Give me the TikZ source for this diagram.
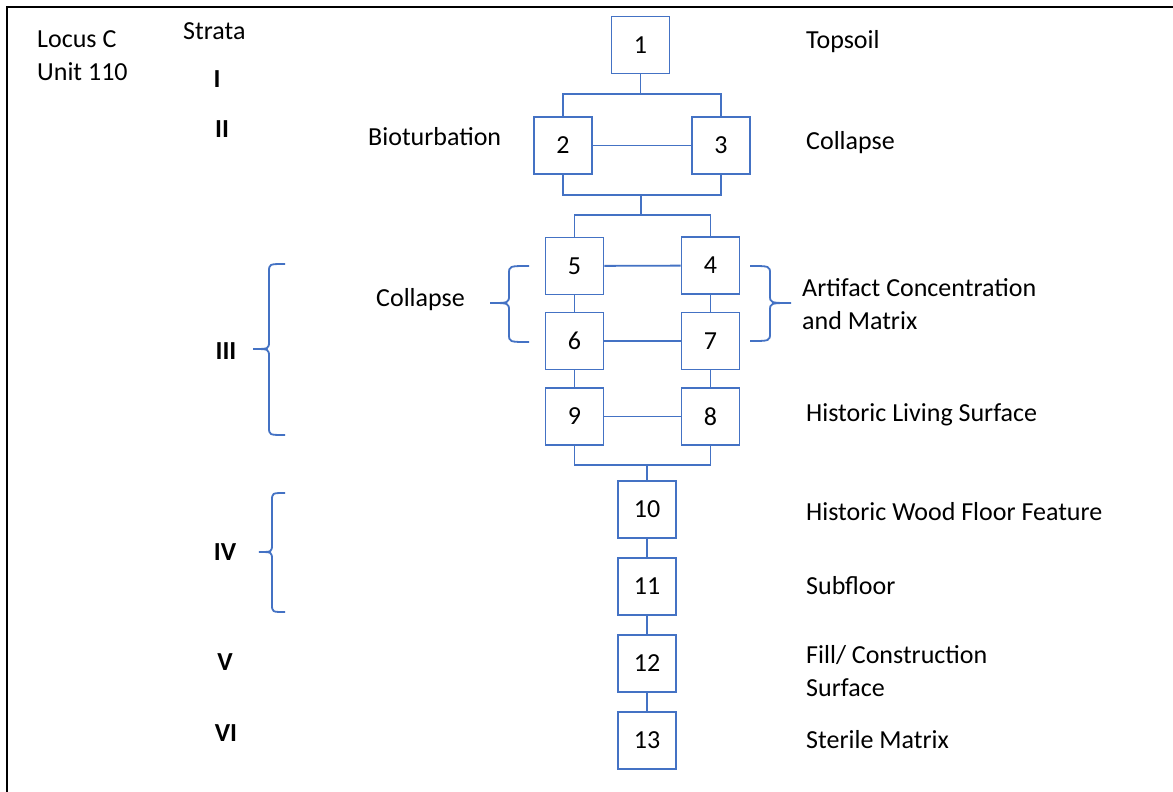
\documentclass[tikz,border=0pt]{standalone}
\usepackage{fontspec}
\setmainfont{Carlito}
\definecolor{boxblue}{RGB}{68,114,196}
\begin{document}
\begin{tikzpicture}[x=1pt,y=-1pt,
  every node/.style={font=\fontsize{26}{32}\selectfont, inner sep=0pt},
  unitbox/.style={draw=boxblue, line width=1.8pt, minimum width=58pt, minimum height=57pt},
  link/.style={draw=boxblue, line width=1.8pt},
  label/.style={anchor=base west},
  stratum/.style={anchor=base, font=\fontsize{26}{32}\selectfont\bfseries},
  brace/.style={draw=boxblue, line width=1.8pt}]
\useasboundingbox (0,0) rectangle (1173,792);
\fill[white] (0,0) rectangle (1173,792);
% frame on the top and left edges
\draw[line width=2.2pt] (7,792) -- (7,7) -- (1173,7);

% headings
\node[label] (locus) at (37,48) {Locus C};
\node[label] (unit) at (37,81) {Unit 110};
\node[label] (strata) at (183,40) {Strata};

% strata numerals
\node[stratum] (sI) at (217,88) {I};
\node[stratum] (sII) at (222,137) {II};
\node[stratum] (sIII) at (226,359) {III};
\node[stratum] (sIV) at (225,560) {IV};
\node[stratum] (sV) at (225,670) {V};
\node[stratum] (sVI) at (226,741) {VI};

% stratigraphic units
\node[unitbox] (b1) at (640.5,45) {1};
\node[unitbox] (b2) at (563,145.5) {2};
\node[unitbox] (b3) at (721,145.5) {3};
\node[unitbox] (b5) at (574.5,266) {5};
\node[unitbox] (b4) at (710.5,265.5) {4};
\node[unitbox] (b6) at (574.5,341) {6};
\node[unitbox] (b7) at (710.5,341) {7};
\node[unitbox] (b9) at (574.5,416.5) {9};
\node[unitbox] (b8) at (710.5,416.5) {8};
\node[unitbox] (b10) at (647,509.5) {10};
\node[unitbox] (b11) at (647,586.5) {11};
\node[unitbox] (b12) at (647,663.5) {12};
\node[unitbox] (b13) at (647,740.5) {13};

% junction points of the matrix lines
\coordinate (j1) at (640.5,94);
\coordinate (j2) at (641,195);
\coordinate (j3) at (641,215);
\coordinate (j4) at (647,465);

% connectors
\draw[link] (b1) -- (j1);
\draw[link] (b2.north) |- (j1) -| (b3.north);
\draw[link] (b2) -- (b3);
\draw[link] (b2.south) |- (j2) -| (b3.south);
\draw[link] (j2) -- (j3);
\draw[link] (b5.north) |- (j3) -| (b4.north);
\draw[link] (b5) -- (b4);
\draw[link] (b6) -- (b7);
\draw[link] (b9) -- (b8);
\draw[link] (b5) -- (b6);
\draw[link] (b6) -- (b9);
\draw[link] (b4) -- (b7);
\draw[link] (b7) -- (b8);
\draw[link] (b9.south) |- (j4) -| (b8.south);
\draw[link] (j4) -- (b10);
\draw[link] (b10) -- (b11);
\draw[link] (b11) -- (b12);
\draw[link] (b12) -- (b13);

% curly braces: end x, spine x, tip x, top y, tip y, bottom y
\newcommand\curlybrace[6]{%
  \draw[brace] (#1,#4) .. controls (#2,#4) .. (#2,#4+8) -- (#2,#5-8)
    .. controls (#2,#5) .. (#3,#5) .. controls (#2,#5) .. (#2,#5+8)
    -- (#2,#6-8) .. controls (#2,#6) .. (#1,#6);}
\curlybrace{285}{269}{253}{264}{349}{435}
\curlybrace{285}{272}{259}{493}{552}{612}
\curlybrace{529}{509}{490}{266}{303}{342}
\curlybrace{750}{770}{791}{266}{303}{341}

% descriptions
\node[label] (topsoil) at (806,49) {Topsoil};
\node[label] (biot) at (368,145) {Bioturbation};
\node[label] (coll1) at (806,149) {Collapse};
\node[label] (coll2) at (376,306) {Collapse};
\node[label] (artif1) at (802,296) {Artifact Concentration};
\node[label] (artif2) at (802,329) {and Matrix};
\node[label] (hls) at (806,421) {Historic Living Surface};
\node[label] (hwff) at (806,520) {Historic Wood Floor Feature};
\node[label] (subfl) at (806,594) {Subfloor};
\node[label] (fill1) at (806,663) {Fill/ Construction};
\node[label] (fill2) at (806,696) {Surface};
\node[label] (steril) at (806,748) {Sterile Matrix};
\end{tikzpicture}
\end{document}
